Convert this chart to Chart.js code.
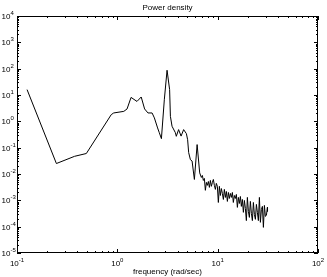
<!DOCTYPE html>
<html>
<head>
<meta charset="utf-8">
<script src="https://cdn.jsdelivr.net/npm/chart.js@4/dist/chart.umd.min.js"></script>
<style>
  html, body { margin: 0; padding: 0; background: #fff; }
  #wrap { width: 327px; height: 277px; }
</style>
</head>
<body>
<div id="wrap"><canvas id="psd"></canvas></div>
<script>
// frequency (rad/sec) and power density
const freq = [0.126, 0.247, 0.375, 0.491, 0.87, 0.92, 1.16, 1.25, 1.37, 1.57,
  1.73, 1.87, 2.02, 2.22, 2.34, 2.52, 2.62, 2.75, 2.94, 3.13,
  3.32, 3.38, 3.51, 3.79, 3.87, 4.08, 4.32, 4.58, 4.88, 5.02,
  5.14, 5.35, 5.56, 5.86, 6.24, 6.62,
  6.88, 7.04, 7.20, 7.37, 7.54, 7.72, 7.89, 8.08, 8.27, 8.46,
  8.65, 8.86, 9.06, 9.27, 9.49, 9.70, 9.93, 10.16, 10.40, 10.64,
  10.89, 11.14, 11.40, 11.66, 11.94, 12.21, 12.50, 12.79, 13.08, 13.39,
  13.70, 14.02, 14.33, 14.67, 15.01, 15.36, 15.72, 16.08, 16.46, 16.84,
  17.23, 17.63, 18.04, 18.46, 18.89, 19.32, 19.78, 20.24, 20.71, 21.19,
  21.68, 22.18, 22.70, 23.23, 23.77, 24.32, 24.88, 25.46, 26.06, 26.66,
  27.28, 27.91, 28.56, 29.23, 29.90, 30.59, 31.30, 31.40];
const power = [16, 0.025, 0.047, 0.060, 1.8, 2.08, 2.39, 2.95, 8.1, 5.7,
  8.4, 2.95, 2.08, 2.08, 1.35, 0.56, 0.37, 0.22, 6.6, 87,
  16, 1.55, 0.65, 0.37, 0.27, 0.485, 0.275, 0.485, 0.34, 0.20,
  0.065, 0.035, 0.031, 0.0062, 0.131, 0.011,
  0.0074, 0.0088, 0.0057, 0.0068, 0.0024, 0.0048, 0.0037, 0.0052, 0.0031, 0.0057,
  0.0034, 0.0048, 0.0062, 0.0037, 0.0026, 0.0044, 0.0034, 0.00083, 0.0034, 0.00153,
  0.0028, 0.00183, 0.00108, 0.0026, 0.00129, 0.00217, 0.00091, 0.00199, 0.00118, 0.00183,
  0.00129, 0.00199, 0.00083, 0.00153, 0.00118, 0.00167, 0.00054, 0.00129, 0.00076, 0.00140,
  0.00059, 0.00108, 0.00035, 0.00099, 0.00049, 0.00017, 0.00129, 0.00038, 0.000225, 0.00091,
  0.00032, 0.00017, 0.00083, 0.00029, 0.00019, 0.00070, 0.00035, 0.00017, 0.00129, 0.000146,
  0.00045, 0.00059, 0.000094, 0.00064, 0.000246, 0.000268, 0.00054, 0.00038];

// decade ticks and their exponents
const xTicks = [0.1, 1, 10, 100];
const xTickExp = ['-1', '0', '1', '2'];
const yTicks = [1e-5, 1e-4, 1e-3, 1e-2, 1e-1, 1, 10, 100, 1e3, 1e4];
const yTickExp = ['-5', '-4', '-3', '-2', '-1', '0', '1', '2', '3', '4'];

const titleText = 'Power density';
const xLabelText = 'frequency (rad/sec)';

const FONT = 'Liberation Sans, Arial, Helvetica, sans-serif';

// minor tick positions 2..9 in each decade
function minors(lo, hi) {
    const out = [];
    for (let d = lo; d < hi; d++) {
        for (let k = 2; k <= 9; k++) out.push(k * Math.pow(10, d));
    }
    return out;
}

const matlabAxes = {
    id: 'matlabAxes',
    afterDraw(chart) {
        const ctx = chart.ctx;
        const a = chart.chartArea;
        const xs = chart.scales.x, ys = chart.scales.y;
        ctx.save();
        ctx.strokeStyle = '#000';
        ctx.lineWidth = 1;

        // box
        ctx.strokeRect(Math.round(a.left) + 0.5, Math.round(a.top) + 0.5,
            Math.round(a.right - a.left) - 1, Math.round(a.bottom - a.top) - 1);

        // ticks pointing inwards on all four sides
        ctx.beginPath();
        const xt = (v, len) => {
            const p = Math.round(xs.getPixelForValue(v)) + 0.5;
            ctx.moveTo(p, a.bottom); ctx.lineTo(p, a.bottom - len);
            ctx.moveTo(p, a.top); ctx.lineTo(p, a.top + len);
        };
        const yt = (v, len) => {
            const p = Math.round(ys.getPixelForValue(v)) + 0.5;
            ctx.moveTo(a.left, p); ctx.lineTo(a.left + len, p);
            ctx.moveTo(a.right, p); ctx.lineTo(a.right - len, p);
        };
        xTicks.forEach(v => xt(v, 4));
        minors(-1, 2).forEach(v => xt(v, 2));
        yTicks.forEach(v => yt(v, 4));
        minors(-5, 4).forEach(v => yt(v, 2));
        ctx.stroke();

        ctx.fillStyle = '#000';
        ctx.textBaseline = 'alphabetic';

        // y tick labels
        yTicks.forEach((v, i) => {
            const p = ys.getPixelForValue(v);
            ctx.font = '8px ' + FONT;
            ctx.textAlign = 'left';
            ctx.fillText('10', 1.5, p + 3);
            const w = ctx.measureText('10').width;
            ctx.font = '6px ' + FONT;
            ctx.fillText(yTickExp[i], 1.5 + w, p - 1);
        });

        // x tick labels
        xTicks.forEach((v, i) => {
            const p = xs.getPixelForValue(v);
            ctx.font = '8px ' + FONT;
            const w = ctx.measureText('10').width;
            ctx.font = '6px ' + FONT;
            const we = ctx.measureText(xTickExp[i]).width;
            const x0 = p - (w + we) / 2;
            ctx.textAlign = 'left';
            ctx.font = '8px ' + FONT;
            ctx.fillText('10', x0, a.bottom + 13);
            ctx.font = '6px ' + FONT;
            ctx.fillText(xTickExp[i], x0 + w, a.bottom + 9);
        });

        // title and axis label
        const cx = (a.left + a.right) / 2;
        ctx.textAlign = 'center';
        ctx.font = '8px ' + FONT;
        ctx.fillText(titleText, cx, a.top - 6);
        ctx.fillText(xLabelText, cx, a.bottom + 21);
        ctx.restore();
    }
};

new Chart(document.getElementById('psd'), {
    type: 'line',
    data: {
        datasets: [{
            data: freq.map((f, i) => ({ x: f, y: power[i] })),
            borderColor: '#000',
            borderWidth: 1,
            pointRadius: 0,
            tension: 0,
            fill: false
        }]
    },
    options: {
        responsive: true,
        maintainAspectRatio: false,
        animation: false,
        layout: { padding: { left: 17, right: 9, top: 16, bottom: 24 } },
        scales: {
            x: { type: 'logarithmic', min: 0.1, max: 100, display: false },
            y: { type: 'logarithmic', min: 1e-5, max: 1e4, display: false }
        },
        plugins: {
            legend: { display: false },
            tooltip: { enabled: false }
        }
    },
    plugins: [matlabAxes]
});
</script>
</body>
</html>
